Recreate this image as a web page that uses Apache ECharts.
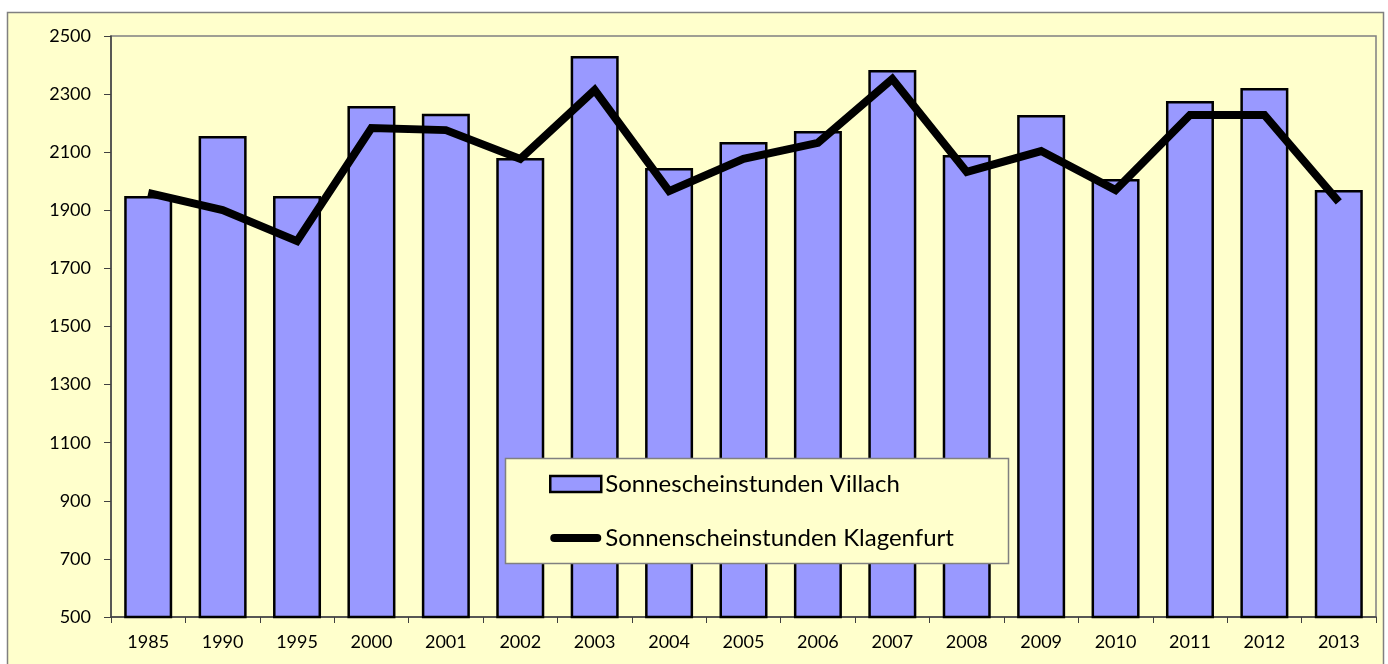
<!DOCTYPE html>
<html>
<head>
<meta charset="utf-8">
<script src="https://cdn.jsdelivr.net/npm/echarts@6/dist/echarts.min.js"></script>
<style>
  html, body { margin: 0; padding: 0; background: #fff; }
  #chart { width: 1388px; height: 664px; }
</style>
</head>
<body>
<div id="chart"></div>
<script>
// Jahre (x-Achse)
const years = ['1985', '1990', '1995', '2000', '2001', '2002', '2003', '2004', '2005',
  '2006', '2007', '2008', '2009', '2010', '2011', '2012', '2013'];
// Sonnenscheinstunden Villach (Balken)
const villach = [1949, 2156, 1949, 2259, 2232, 2080, 2431, 2046, 2135,
  2173, 2383, 2090, 2228, 2008, 2276, 2321, 1970];
// Sonnenscheinstunden Klagenfurt (Linie)
const klagenfurt = [1960, 1901, 1794, 2183, 2176, 2077, 2314, 1966, 2077,
  2132, 2352, 2032, 2104, 1970, 2228, 2228, 1929];

const nameVillach = 'Sonnescheinstunden Villach';
const nameKlagenfurt = 'Sonnenscheinstunden Klagenfurt';

// dicke Linie mit runden Enden als Legendensymbol (unsichtbare Punkte halten die Box 51x16)
const lineIcon = 'path://M0,0 M51,16 M4,4 L47,4 A4,4 0 0 1 47,12 L4,12 A4,4 0 0 1 4,4 Z';

const chart = echarts.init(document.getElementById('chart'));
const option = {
  backgroundColor: '#fff',
  animation: false,
  textStyle: { fontFamily: 'Lato', color: '#000' },
  graphic: [
    { // äusserer Rahmen
      type: 'rect', z: -10, silent: true,
      shape: { x: 7.5, y: 12.5, width: 1376, height: 700 },
      style: { fill: '#FFFFCC', stroke: '#808080', lineWidth: 1.5 }
    },
    { // Legendenkasten
      type: 'rect', z: 50, silent: true,
      shape: { x: 505.5, y: 458.5, width: 503, height: 105 },
      style: { fill: '#FFFFCC', stroke: '#808080', lineWidth: 1.5 }
    }
  ],
  grid: {
    left: 111, top: 36, right: 12, bottom: 47,
    show: true, borderColor: '#808080', borderWidth: 1.5,
    backgroundColor: 'transparent'
  },
  legend: {
    z: 60,
    orient: 'vertical',
    left: 544, top: 467,
    itemWidth: 51, itemHeight: 16, itemGap: 30,
    textStyle: { fontSize: 24, fontFamily: 'Lato', color: '#000', padding: [0, 0, 0, -1] },
    data: [
      { name: nameVillach, icon: 'rect', itemStyle: { color: '#9999FF', borderColor: '#000', borderWidth: 2.5 } },
      { name: nameKlagenfurt, icon: lineIcon, itemStyle: { color: '#000', borderWidth: 0 } }
    ]
  },
  xAxis: {
    type: 'category',
    data: years,
    boundaryGap: true,
    axisLine: { lineStyle: { color: '#404040', width: 1.5 } },
    axisTick: { show: true, length: 6, lineStyle: { color: '#404040' } },
    axisLabel: { fontSize: 18, color: '#000', margin: 16 }
  },
  yAxis: {
    type: 'value',
    min: 500, max: 2500, interval: 200,
    axisLine: { show: true, lineStyle: { color: '#404040', width: 1.5 } },
    axisTick: { show: true, length: 7, lineStyle: { color: '#404040' } },
    splitLine: { show: false },
    axisLabel: { fontSize: 18, color: '#000', margin: 20, formatter: v => String(v) }
  },
  series: [
    {
      name: nameVillach,
      type: 'bar',
      data: villach,
      barWidth: 48,
      itemStyle: { color: '#9999FF', borderColor: '#000', borderWidth: 2.5 }
    },
    {
      name: nameKlagenfurt,
      type: 'line',
      data: klagenfurt,
      symbol: 'none',
      lineStyle: { color: '#000', width: 8, join: 'miter' },
      itemStyle: { color: '#000' },
      z: 5
    }
  ]
};
chart.setOption(option);
</script>
</body>
</html>
